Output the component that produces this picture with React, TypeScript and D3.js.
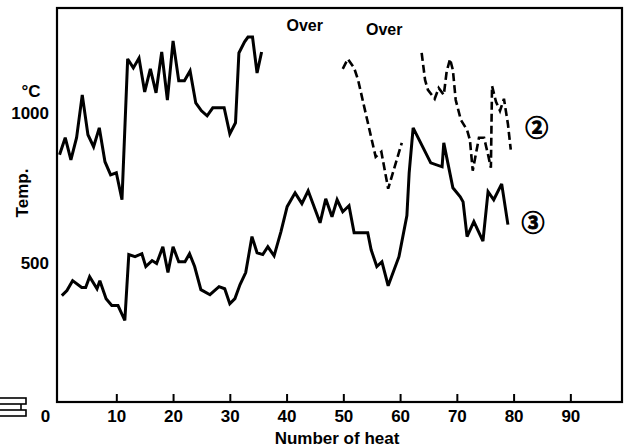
import { useEffect, useRef } from "react";
import * as d3 from "d3";

// [number of heat, temperature °C]
const curve2Solid: [number, number][] = [
  [0, 860], [1, 917], [2, 843], [3, 917], [4, 1060], [5, 927], [6, 887],
  [7, 950], [8, 837], [9, 793], [10, 800], [11, 710], [12, 1180], [13, 1150],
  [14, 1183], [15, 1070], [16, 1147], [17, 1067], [18, 1203], [19, 1043],
  [20, 1240], [21, 1107], [22, 1107], [23, 1140], [24, 1033], [25, 1007],
  [26, 990], [27, 1017], [29, 1017], [30, 930], [31, 967], [31.6, 1200],
  [32.6, 1237], [33.2, 1253], [34, 1253], [34.8, 1133], [35.6, 1203],
];

const curve2DashA: [number, number][] = [
  [49.9, 1147], [50.8, 1180], [51.9, 1150], [52.6, 1110], [53.8, 1010],
  [55.7, 853], [56.7, 870], [57.9, 747], [60.3, 900],
];

const curve2DashB: [number, number][] = [
  [63.8, 1200], [64.4, 1110], [64.9, 1077], [66.1, 1047], [66.8, 1083],
  [67.7, 1060], [68.2, 1137], [68.8, 1180], [69.3, 1143], [69.8, 1043],
  [70.7, 977], [71.8, 943], [72.3, 910], [72.8, 807], [73.9, 917],
  [74.8, 917], [75.5, 860], [76.0, 817], [76.2, 1090], [76.9, 1037],
  [77.6, 1007], [78.3, 1047], [79.0, 963], [79.5, 877],
];

const curve3: [number, number][] = [
  [0.4, 390], [1.3, 407], [2.3, 440], [3.9, 417], [4.6, 417], [5.3, 453],
  [6.6, 413], [7.1, 440], [8.2, 380], [9.2, 357], [10.3, 357], [11.5, 307],
  [12.2, 527], [13.3, 520], [14.5, 530], [15.2, 487], [16.3, 507], [17.1, 497],
  [18.2, 553], [19.1, 467], [20.0, 553], [21.0, 503], [22.1, 503], [22.9, 530],
  [23.8, 487], [24.9, 410], [26.5, 393], [28.1, 420], [29.1, 413], [30.0, 363],
  [30.9, 380], [31.8, 427], [32.8, 467], [33.9, 587], [34.8, 533], [35.8, 527],
  [36.7, 553], [37.8, 523], [39.0, 603], [40.1, 687], [41.5, 733], [42.7, 697],
  [43.8, 740], [45.9, 633], [46.9, 713], [48.0, 653], [48.9, 710], [49.9, 670],
  [51.0, 690], [51.9, 600], [54.3, 600], [54.9, 543], [55.9, 487], [56.8, 503],
  [57.9, 423], [59.8, 520], [61.2, 657], [61.6, 800], [62.3, 950], [65.4, 833],
  [67.4, 820], [67.7, 900], [69.3, 750], [70.6, 720], [71.1, 703], [71.8, 587],
  [73.0, 637], [74.6, 572], [75.5, 737], [76.5, 710], [77.9, 763], [79.0, 627],
];

const xTicks = [10, 20, 30, 40, 50, 60, 70, 80, 90];
const yTicks = [500, 1000];

const width = 626;
const height = 448;
const margin = { top: 8, right: 4, bottom: 46, left: 57 };
const font = "'Liberation Sans', Arial, sans-serif";

const App = () => {
  const svgRef = useRef<SVGSVGElement>(null);

  useEffect(() => {
    const xScale = d3
      .scaleLinear()
      .domain([-0.45, 99.1])
      .range([margin.left, width - margin.right]);
    const yScale = d3
      .scaleLinear()
      .domain([35, 1350])
      .range([height - margin.bottom, margin.top]);

    const svg = d3.select(svgRef.current);
    svg.selectAll("*").remove();

    // frame
    svg
      .append("rect")
      .attr("x", margin.left)
      .attr("y", margin.top)
      .attr("width", width - margin.left - margin.right)
      .attr("height", height - margin.top - margin.bottom)
      .attr("fill", "none")
      .attr("stroke", "#000")
      .attr("stroke-width", 2.2);

    // x axis, ticks pointing inward
    const xAxis = d3
      .axisBottom(xScale)
      .tickValues(xTicks)
      .tickSize(-8)
      .tickPadding(8)
      .tickFormat(d3.format("d"));
    const xg = svg
      .append("g")
      .attr("transform", `translate(0,${height - margin.bottom})`)
      .call(xAxis);
    xg.select(".domain").remove();
    xg.selectAll("line").attr("stroke", "#000").attr("stroke-width", 2);
    xg.selectAll("text")
      .attr("fill", "#000")
      .attr("font-family", font)
      .attr("font-weight", "bold")
      .attr("font-size", 17);

    const label = (txt: string, x: number, y: number, size = 17) =>
      svg
        .append("text")
        .attr("x", x)
        .attr("y", y)
        .attr("font-family", font)
        .attr("font-weight", "bold")
        .attr("font-size", size)
        .attr("fill", "#000")
        .text(txt);

    // origin label sits left of the axis
    label("0", xScale(0) - 14, height - margin.bottom + 8)
      .attr("text-anchor", "middle")
      .attr("dy", "0.71em");

    // y labels (no tick marks)
    yTicks.forEach((v) => {
      label(String(v), margin.left - 8, yScale(v))
        .attr("text-anchor", "end")
        .attr("dy", "0.36em");
    });
    label("°C", 31, yScale(1000) - 16).attr("text-anchor", "middle");

    label("Temp.", 0, 0)
      .attr("text-anchor", "middle")
      .attr("dy", "0.36em")
      .attr("transform", "translate(22,193) rotate(-90)");
    label("Number of heat", 337, 444).attr("text-anchor", "middle");

    label("Over", xScale(43.2), 31, 16).attr("text-anchor", "middle");
    label("Over", xScale(57.2), 35, 16).attr("text-anchor", "middle");

    const circled = (txt: string, heat: number, temp: number) =>
      svg
        .append("text")
        .attr("x", xScale(heat))
        .attr("y", yScale(temp))
        .attr("dy", "0.36em")
        .attr("text-anchor", "middle")
        .attr("font-family", "'Noto Sans CJK JP', 'DejaVu Sans', sans-serif")
        .attr("font-weight", "bold")
        .attr("font-size", 23)
        .attr("fill", "#000")
        .attr("stroke", "#000")
        .attr("stroke-width", 0.9)
        .text(txt);
    circled("\u2461", 84.1, 950);
    circled("\u2462", 83.4, 632);

    // axis break mark at bottom left
    const brk = svg.append("g").attr("fill", "none").attr("stroke", "#000").attr("stroke-width", 1.6);
    brk.append("rect").attr("x", -2).attr("y", 398).attr("width", 28).attr("height", 6);
    brk.append("rect").attr("x", -2).attr("y", 410).attr("width", 28).attr("height", 6);
    brk.append("line").attr("x1", 21).attr("x2", 21).attr("y1", 404).attr("y2", 410);

    const line = d3
      .line<[number, number]>()
      .x((d) => xScale(d[0]))
      .y((d) => yScale(d[1]));

    const series = [
      { data: curve2Solid, dash: null },
      { data: curve3, dash: null },
      { data: curve2DashA, dash: "8,4" },
      { data: curve2DashB, dash: "8,4" },
    ];
    svg
      .selectAll(".curve")
      .data(series)
      .enter()
      .append("path")
      .attr("class", "curve")
      .attr("fill", "none")
      .attr("stroke", "#000")
      .attr("stroke-width", (d) => (d.dash ? 2.6 : 3))
      .attr("stroke-linejoin", "miter")
      .attr("stroke-miterlimit", 3)
      .attr("stroke-dasharray", (d) => d.dash)
      .attr("d", (d) => line(d.data));
  }, []);

  return (
    <svg
      ref={svgRef}
      width={width}
      height={height}
      style={{ position: "absolute", left: 0, top: 0, background: "#fff" }}
    />
  );
};

export default App;
